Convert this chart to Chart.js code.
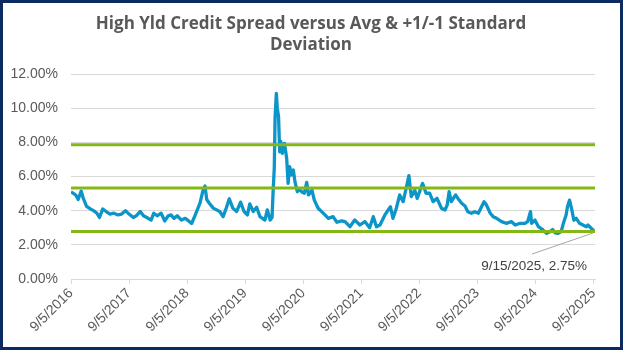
<!DOCTYPE html>
<html>
<head>
<meta charset="utf-8">
<script src="https://cdn.jsdelivr.net/npm/chart.js@4.4.0/dist/chart.umd.min.js"></script>
<style>
  html, body { margin: 0; padding: 0; background: #fff; }
  #wrap { width: 623px; height: 350px; position: relative; }
</style>
</head>
<body>
<div id="wrap"><canvas id="chart" width="623" height="350"></canvas></div>
<script>
// Dates of the spread readings
const spreadDates = [
  '2016-09-05','2016-09-22','2016-10-06','2016-10-20','2016-11-08','2016-11-22','2016-12-12',
  '2017-01-05','2017-01-25','2017-02-15','2017-03-03','2017-03-24','2017-04-14','2017-05-08',
  '2017-06-02','2017-06-28','2017-07-20','2017-08-14','2017-09-05','2017-10-02','2017-10-20',
  '2017-11-15','2017-12-05','2017-12-26','2018-01-22','2018-02-08','2018-03-01','2018-03-26',
  '2018-04-18','2018-05-10','2018-05-28','2018-06-15','2018-07-05','2018-08-01','2018-08-25',
  '2018-09-15','2018-10-04','2018-10-27','2018-11-26','2018-12-15','2018-12-27','2019-01-07',
  '2019-01-22','2019-02-17','2019-03-30','2019-04-20','2019-05-10','2019-05-29','2019-06-20',
  '2019-07-14','2019-08-08','2019-08-30','2019-09-20','2019-10-05','2019-10-27','2019-11-17',
  '2019-12-08','2020-01-08','2020-01-23','2020-02-10','2020-02-22','2020-02-28','2020-03-07',
  '2020-03-12','2020-03-20','2020-03-26','2020-04-03','2020-04-10','2020-04-17','2020-04-26',
  '2020-05-10','2020-05-24','2020-06-02','2020-06-12','2020-06-23','2020-07-05','2020-07-15',
  '2020-07-30','2020-08-12','2020-08-26','2020-09-12','2020-09-27','2020-10-08','2020-10-30',
  '2020-11-14','2020-12-08','2020-12-30','2021-01-20','2021-02-10','2021-03-12','2021-04-05',
  '2021-05-05','2021-05-26','2021-06-26','2021-07-26','2021-08-28','2021-09-28','2021-10-28',
  '2021-11-20','2021-12-10','2022-01-01','2022-02-01','2022-02-22','2022-03-08','2022-03-24',
  '2022-04-14','2022-05-05','2022-05-27','2022-06-17','2022-07-02','2022-07-17','2022-08-08',
  '2022-08-23','2022-09-26','2022-10-18','2022-11-10','2022-12-01','2022-12-26','2023-01-23',
  '2023-02-14','2023-02-28','2023-03-12','2023-03-26','2023-04-22','2023-05-14','2023-05-30',
  '2023-06-20','2023-07-08','2023-07-30','2023-08-20','2023-09-12','2023-10-02','2023-10-18',
  '2023-11-02','2023-11-26','2023-12-14','2024-01-05','2024-02-05','2024-03-05','2024-04-08',
  '2024-05-01','2024-06-01','2024-07-01','2024-07-18','2024-08-05','2024-08-12','2024-09-02',
  '2024-09-24','2024-10-18','2024-11-14','2024-12-05','2024-12-22','2025-01-08','2025-01-26',
  '2025-02-14','2025-02-28','2025-03-17','2025-03-26','2025-04-08','2025-04-20','2025-05-05',
  '2025-05-20','2025-06-10','2025-07-01','2025-07-22','2025-08-01','2025-08-22','2025-09-15'
];

// High yield spread, in percent
const spreadValues = [
  5.10, 5.00, 4.90, 4.65, 5.15, 4.70, 4.25,
  4.10, 4.00, 3.85, 3.60, 4.10, 3.95, 3.80,
  3.85, 3.75, 3.80, 4.00, 3.80, 3.60, 3.70,
  3.95, 3.70, 3.60, 3.45, 3.85, 3.70, 3.85,
  3.40, 3.70, 3.75, 3.55, 3.70, 3.45, 3.55,
  3.40, 3.25, 3.75, 4.45, 5.20, 5.45, 4.65,
  4.45, 4.15, 3.95, 3.65, 4.15, 4.70, 4.15,
  3.95, 4.50, 3.95, 3.75, 4.40, 3.95, 4.20,
  3.65, 3.45, 4.05, 3.45, 3.60, 5.00, 6.50,
  9.40, 10.87, 10.00, 9.50, 7.45, 8.05, 7.36,
  7.94, 7.07, 5.60, 6.57, 6.09, 6.38, 5.70,
  5.11, 5.25, 5.11, 5.02, 5.66, 4.92, 5.20,
  4.62, 4.14, 3.94, 3.75, 3.55, 3.65, 3.32,
  3.40, 3.36, 3.06, 3.45, 3.16, 3.36, 3.00,
  3.65, 3.06, 3.16, 3.75, 4.04, 4.23, 3.55,
  4.14, 4.92, 4.53, 5.40, 6.05, 4.82, 5.20,
  4.72, 5.60, 5.02, 5.02, 4.53, 4.72, 4.14,
  4.04, 4.33, 5.11, 4.53, 4.92, 4.62, 4.43,
  4.27, 3.94, 3.85, 3.94, 3.85, 4.23, 4.53,
  4.33, 3.85, 3.65, 3.55, 3.36, 3.26, 3.36,
  3.16, 3.26, 3.26, 3.36, 3.94, 3.26, 3.45,
  3.06, 2.91, 2.67, 2.77, 2.90, 2.70, 2.67,
  2.77, 3.26, 3.75, 4.23, 4.62, 4.14, 3.45,
  3.55, 3.26, 3.16, 3.06, 3.16, 2.97, 2.75
];

// Average and +1/-1 standard deviation levels
const avgLevel = 5.32;
const upperLevel = 7.86;
const lowerLevel = 2.78;

// X axis tick dates and y axis ticks
const tickDates = ['2016-09-05','2017-09-05','2018-09-05','2019-09-05','2020-09-05',
  '2021-09-05','2022-09-05','2023-09-05','2024-09-05','2025-09-05'];
const yTicks = [0, 2, 4, 6, 8, 10, 12];

const titleLines = ['High Yld Credit Spread versus Avg & +1/-1 Standard', 'Deviation'];

const toDay = (s) => {
  const [y, m, d] = s.split('-').map(Number);
  return Date.UTC(y, m - 1, d) / 864e5;
};
const fmtDay = (v) => {
  const dt = new Date(v * 864e5);
  return `${dt.getUTCMonth() + 1}/${dt.getUTCDate()}/${dt.getUTCFullYear()}`;
};

const xMin = toDay(spreadDates[0]);
const xMax = toDay(spreadDates[spreadDates.length - 1]);
const spreadData = spreadDates.map((d, i) => ({ x: toDay(d), y: spreadValues[i] }));
const levelLine = (v) => [{ x: xMin, y: v }, { x: xMax, y: v }];

const grey = '#595959';
const gridGrey = '#d9d9d9';
const green = '#84b817';
const axisFont = '"Liberation Sans", Arial, sans-serif';

// title, border round the whole chart and the data label for the last point
const extras = {
  id: 'extras',
  afterDraw(chart) {
    const ctx = chart.ctx;
    const meta = chart.getDatasetMeta(3);
    const last = meta.data[meta.data.length - 1];
    ctx.save();
    // title, centred on the chart box
    ctx.fillStyle = grey;
    ctx.font = 'bold 17px "Open Sans", sans-serif';
    ctx.textAlign = 'center';
    ctx.textBaseline = 'middle';
    ctx.fillText(titleLines[0], 311, 24);
    ctx.fillText(titleLines[1], 311, 45.5);
    // leader line
    ctx.strokeStyle = '#a6a6a6';
    ctx.lineWidth = 1;
    ctx.beginPath();
    ctx.moveTo(last.x - 2, last.y + 1);
    ctx.lineTo(last.x - 63, last.y + 22);
    ctx.stroke();
    // label
    ctx.fillStyle = '#404040';
    ctx.font = '13.5px ' + axisFont;
    ctx.textAlign = 'right';
    const lastVal = spreadValues[spreadValues.length - 1];
    ctx.fillText(`${fmtDay(xMax)}, ${lastVal.toFixed(2)}%`, last.x - 8, last.y + 34);
    // outer border
    ctx.strokeStyle = '#0c2b5e';
    ctx.lineWidth = 3;
    ctx.strokeRect(1.5, 1.5, chart.width - 3, chart.height - 3);
    ctx.restore();
  }
};

new Chart(document.getElementById('chart'), {
  type: 'line',
  data: {
    datasets: [
      { data: levelLine(upperLevel), borderColor: green, borderWidth: 3, pointRadius: 0, order: 1 },
      { data: levelLine(avgLevel), borderColor: green, borderWidth: 3, pointRadius: 0, order: 1 },
      { data: levelLine(lowerLevel), borderColor: green, borderWidth: 3, pointRadius: 0, order: 1 },
      {
        data: spreadData,
        borderColor: '#0c95c8',
        borderWidth: 3.3,
        pointRadius: 0,
        tension: 0,
        borderJoinStyle: 'round',
        order: 2
      }
    ]
  },
  options: {
    responsive: false,
    animation: false,
    events: [],
    layout: { padding: { left: 0, right: 28, top: 74, bottom: 0 } },
    plugins: {
      legend: { display: false },
      tooltip: { enabled: false },
      title: { display: false }
    },
    scales: {
      x: {
        type: 'linear',
        min: xMin,
        max: xMax,
        afterBuildTicks: (scale) => { scale.ticks = tickDates.map(d => ({ value: toDay(d) })); },
        afterFit: (scale) => { scale.height = 71; },
        ticks: {
          callback: (v) => fmtDay(v),
          color: grey,
          font: { family: axisFont, size: 14 },
          minRotation: 45,
          maxRotation: 45,
          autoSkip: false,
          padding: 1
        },
        grid: { drawOnChartArea: false, drawTicks: true, tickLength: 5, color: gridGrey },
        border: { display: true, color: gridGrey }
      },
      y: {
        min: 0,
        max: 12,
        afterBuildTicks: (scale) => { scale.ticks = yTicks.map(v => ({ value: v })); },
        afterFit: (scale) => { scale.width = 71; },
        ticks: {
          callback: (v) => v.toFixed(2) + '%',
          color: grey,
          font: { family: axisFont, size: 14 },
          padding: 13
        },
        grid: { drawTicks: false, color: gridGrey },
        border: { display: false }
      }
    }
  },
  plugins: [extras]
});
</script>
</body>
</html>
